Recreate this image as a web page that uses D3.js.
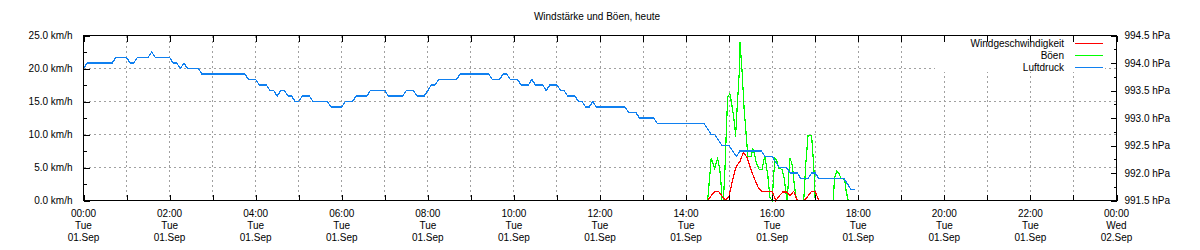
<!DOCTYPE html>
<html><head><meta charset="utf-8">
<script src="https://cdn.jsdelivr.net/npm/d3@7"></script>
<style>
body{margin:0;background:#fff}
svg{display:block}
text{font-family:"Liberation Sans",Arial,sans-serif;font-size:10px;fill:#000}
</style>
</head><body>
<svg id="chart" width="1200" height="250"></svg>
<script>
// ---------- DATA ----------
const chartTitle = "Windstärke und Böen, heute";
const seriesNames = ["Windgeschwindigkeit", "Böen", "Luftdruck"];
const seriesColors = ["#ff0000", "#00ff00", "#1080f0"];

const pressureTimes = ["00:00","00:05","00:40","00:45","01:00","01:05","01:10","01:15","01:30","01:35","01:40","02:00","02:05","02:10","02:15","02:20","02:25","02:40","02:45","03:45","03:50","04:00","04:05","04:15","04:20","04:25","04:30","04:35","04:40","04:45","04:50","04:55","05:00","05:05","05:15","05:20","05:40","05:45","06:00","06:05","06:15","06:20","06:35","06:40","07:00","07:05","07:25","07:30","07:40","07:45","07:55","08:00","08:05","08:10","08:15","08:40","08:45","09:25","09:30","09:40","09:45","09:50","09:55","10:05","10:10","10:20","10:25","10:30","10:40","10:45","10:50","11:00","11:05","11:10","11:15","11:25","11:30","11:35","11:40","11:45","11:50","11:55","12:35","12:40","12:50","12:55","13:15","13:20","14:25","14:30","14:35","14:40","14:45","14:50","15:00","15:05","15:10","15:15","15:45","15:50","16:00","16:05","16:10","16:20","16:25","16:35","16:40","16:50","16:55","17:00","17:05","17:40","17:45","17:50","17:55"];
const pressureValues = [993.9,994.0,994.0,994.1,994.1,994.0,994.0,994.1,994.1,994.2,994.1,994.1,994.0,994.0,993.9,994.0,993.9,993.9,993.8,993.8,993.7,993.7,993.6,993.6,993.5,993.5,993.4,993.5,993.5,993.4,993.4,993.3,993.3,993.4,993.4,993.3,993.3,993.2,993.2,993.3,993.3,993.4,993.4,993.5,993.5,993.4,993.4,993.5,993.5,993.4,993.4,993.5,993.6,993.6,993.7,993.7,993.8,993.8,993.7,993.7,993.8,993.8,993.7,993.7,993.6,993.6,993.7,993.6,993.6,993.5,993.6,993.6,993.5,993.5,993.4,993.4,993.3,993.3,993.2,993.2,993.3,993.2,993.2,993.1,993.1,993.0,993.0,992.9,992.9,992.8,992.7,992.7,992.6,992.5,992.5,992.4,992.3,992.4,992.4,992.3,992.3,992.2,992.1,992.1,992.0,992.0,991.9,991.9,992.0,992.0,991.9,991.9,991.8,991.7,991.7];

const windTimes = ["00:00","14:30","14:35","14:40","14:45","14:50","14:55","15:00","15:05","15:10","15:15","15:20","15:25","15:30","15:35","15:40","15:45","15:50","15:55","16:00","16:05","16:10","16:15","16:20","16:25","16:30","16:35","16:40","16:45","16:50","16:55","17:00","17:05","17:55"];
const windValues = [0,0,0.7,1.4,1.4,0.7,0,0.7,3.2,5.2,5.9,7.3,6.5,4.8,3.4,2.1,1.4,1.4,1.4,1.4,0,0.7,1.3,1.3,0.7,1.4,0,0,0,0.7,1.4,1.4,0,0];

const gustTimes = ["00:00","14:30","14:33","14:35","14:37","14:40","14:42","14:44","14:47","14:49","14:50","14:52","14:54","14:56","14:58","15:01","15:03","15:05","15:08","15:09","15:11","15:14","15:15","15:16","15:18","15:21","15:24","15:26","15:31","15:33","15:36","15:38","15:42","15:46","15:48","15:50","15:54","15:57","16:00","16:02","16:04","16:07","16:09","16:14","16:17","16:20","16:21","16:23","16:25","16:28","16:31","16:34","16:44","16:47","16:50","16:55","16:58","17:00","17:25","17:27","17:30","17:33","17:36","17:41","17:43","17:46","17:55"];
const gustValues = [0,0,3.7,6.4,5.8,4.8,5.8,6.4,4.7,2.2,0,0,4.2,10.2,15.7,16.2,15,13.7,11.2,9.7,13.7,19.2,24,22.7,19.7,13.7,9.7,6.7,6.7,7.9,6.7,5.7,4.7,4.7,5.9,6.7,3.7,0.4,0,3.7,6.4,5.9,4.9,4.7,3.2,0.4,0,3.7,6.4,5.4,2.2,0,0,5.7,9.8,9.8,5.2,0,0,3.4,4.5,4.1,3.4,3.2,1.5,0,0];

const xTickHours = [0,2,4,6,8,10,12,14,16,18,20,22,24];
const xTickTimeLabels = ["00:00","02:00","04:00","06:00","08:00","10:00","12:00","14:00","16:00","18:00","20:00","22:00","00:00"];
const xTickDayLabels = ["Tue","Tue","Tue","Tue","Tue","Tue","Tue","Tue","Tue","Tue","Tue","Tue","Wed"];
const xTickDateLabels = ["01.Sep","01.Sep","01.Sep","01.Sep","01.Sep","01.Sep","01.Sep","01.Sep","01.Sep","01.Sep","01.Sep","01.Sep","02.Sep"];
const leftTicks = [0,5,10,15,20,25];
const leftMinorTicks = [2.5,7.5,12.5,17.5,22.5];
const rightTicks = [991.5,992.0,992.5,993.0,993.5,994.0,994.5];
const rightMinorTicks = [991.75,992.25,992.75,993.25,993.75,994.25];

// ---------- LAYOUT ----------
const L = 83.5, R = 1116.5, T = 35.5, B = 200.5;
const svg = d3.select("#chart");
const toMin = s => { const p = s.split(":").map(Number); return p[0]*60 + p[1]; };
const x = d3.scaleLinear().domain([0, 1440]).range([L, R]);
const yL = d3.scaleLinear().domain([0, 25]).range([B, T]);
const yR = d3.scaleLinear().domain([991.5, 994.5]).range([B, T]);

// title
svg.append("text").attr("x", 597).attr("y", 20).attr("text-anchor", "middle").text(chartTitle);

// grid
const grid = svg.append("g").attr("stroke", "#a0a0a0").attr("stroke-width", 1)
  .attr("stroke-dasharray", "2,3").attr("shape-rendering", "crispEdges");
leftTicks.filter(v => v > 0 && v < 25).forEach(v => {
  grid.append("line").attr("x1", L).attr("x2", R).attr("y1", yL(v)).attr("y2", yL(v));
});
d3.range(1, 24).forEach(h => {
  grid.append("line").attr("x1", x(h*60)).attr("x2", x(h*60)).attr("y1", T).attr("y2", B);
});

// legend background
svg.append("rect").attr("x", 935).attr("y", 36).attr("width", 170).attr("height", 36).attr("fill", "#fff");

// data lines
const line = (ys) => d3.line().x(d => x(d.t)).y(d => ys(d.v));
const mk = (ts, vs) => ts.map((t, i) => ({t: toMin(t), v: vs[i]}));
const dataSets = [
  {pts: mk(windTimes, windValues), ys: yL, color: seriesColors[0]},
  {pts: mk(gustTimes, gustValues), ys: yL, color: seriesColors[1]},
  {pts: mk(pressureTimes, pressureValues), ys: yR, color: seriesColors[2]}
];
// draw gusts first, then wind, then pressure
[1, 0, 2].forEach(i => {
  const ds = dataSets[i];
  svg.append("path").datum(ds.pts).attr("d", line(ds.ys))
    .attr("fill", "none").attr("stroke", ds.color).attr("stroke-width", 1.2)
    .attr("shape-rendering", "crispEdges");
});

// border
svg.append("rect").attr("x", L).attr("y", T).attr("width", R - L).attr("height", B - T)
  .attr("fill", "none").attr("stroke", "#000").attr("stroke-width", 1).attr("shape-rendering", "crispEdges");

// axes
function styleAxis(g) { g.select(".domain").remove(); g.selectAll("line").attr("shape-rendering", "crispEdges"); g.selectAll("text").attr("font-size", null).attr("font-family", null); }
svg.append("g").attr("transform", `translate(${L},0)`)
  .call(d3.axisLeft(yL).tickValues(leftTicks).tickSize(-6).tickPadding(11).tickFormat(d => d.toFixed(1) + " km/h"))
  .call(styleAxis);
svg.append("g").attr("transform", `translate(${L},0)`)
  .call(d3.axisLeft(yL).tickValues(leftMinorTicks).tickSize(-3).tickFormat(""))
  .call(styleAxis);
svg.append("g").attr("transform", `translate(${R},0)`)
  .call(d3.axisRight(yR).tickValues(rightTicks).tickSize(-6).tickPadding(8).tickFormat(d => d.toFixed(1) + " hPa"))
  .call(styleAxis);
svg.append("g").attr("transform", `translate(${R},0)`)
  .call(d3.axisRight(yR).tickValues(rightMinorTicks).tickSize(-3).tickFormat(""))
  .call(styleAxis);
const hourTicks = d3.range(0, 25).map(h => h*60);
svg.append("g").attr("transform", `translate(0,${B})`)
  .call(d3.axisBottom(x).tickValues(hourTicks).tickSize(-6).tickFormat(""))
  .call(styleAxis);
svg.append("g").attr("transform", `translate(0,${T})`)
  .call(d3.axisTop(x).tickValues(hourTicks).tickSize(-6).tickFormat(""))
  .call(styleAxis);

// x labels (three lines)
const xl = svg.append("g").attr("text-anchor", "middle");
xTickHours.forEach((h, i) => {
  const t = xl.append("text").attr("x", x(h*60)).attr("y", 216.5);
  t.append("tspan").attr("x", x(h*60)).attr("y", 216.5).text(xTickTimeLabels[i]);
  t.append("tspan").attr("x", x(h*60)).attr("y", 228.8).text(xTickDayLabels[i]);
  t.append("tspan").attr("x", x(h*60)).attr("y", 241.1).text(xTickDateLabels[i]);
});

// legend
const legRows = [43.5, 55.5, 67.5];
seriesNames.forEach((n, i) => {
  svg.append("text").attr("x", 1064).attr("y", legRows[i]).attr("dy", "0.35em")
    .attr("text-anchor", "end").text(n);
  svg.append("line").attr("x1", 1075).attr("x2", 1103).attr("y1", legRows[i]).attr("y2", legRows[i])
    .attr("stroke", seriesColors[i]).attr("stroke-width", 1.2).attr("shape-rendering", "crispEdges");
});
</script>
</body></html>
